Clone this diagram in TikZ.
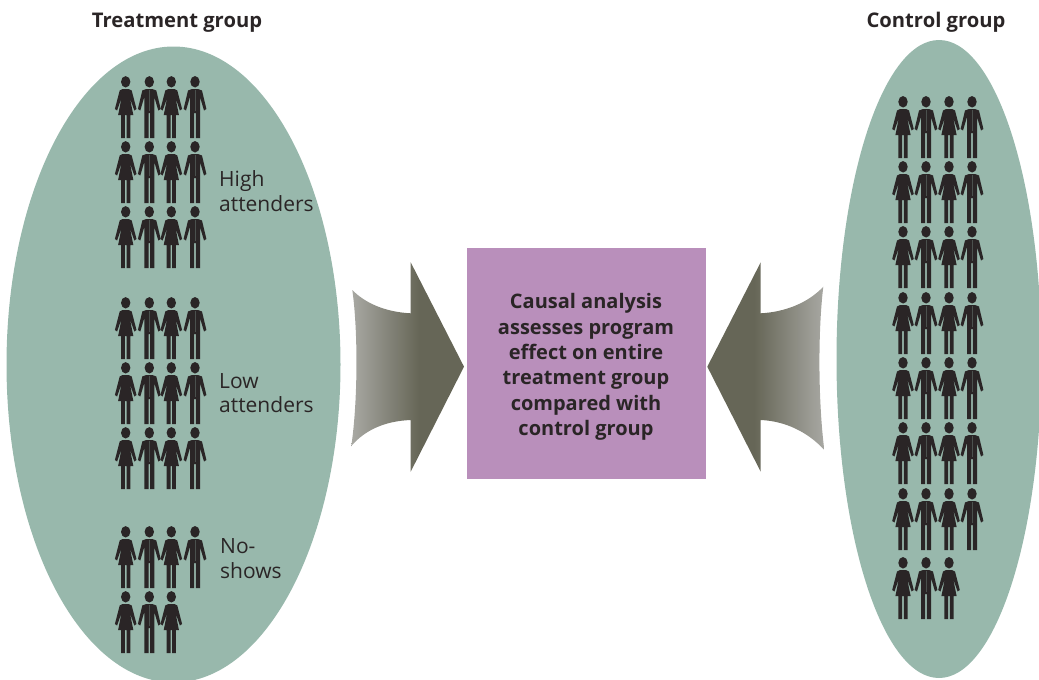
\documentclass[tikz,border=0pt]{standalone}
\usepackage{fontspec}
\setmainfont{Open Sans}
\usetikzlibrary{shapes.geometric}
\definecolor{oval}{HTML}{98B8AC}
\definecolor{boxc}{HTML}{B98FBB}
\definecolor{ink}{HTML}{2A2526}
\pgfdeclarehorizontalshading{arrowR}{100bp}{rgb(0bp)=(0.66,0.66,0.64); rgb(25bp)=(0.66,0.66,0.64); rgb(55bp)=(0.40,0.40,0.34); rgb(100bp)=(0.40,0.40,0.34)}
\pgfdeclarehorizontalshading{arrowL}{100bp}{rgb(0bp)=(0.40,0.40,0.34); rgb(45bp)=(0.40,0.40,0.34); rgb(75bp)=(0.66,0.66,0.64); rgb(100bp)=(0.66,0.66,0.64)}
\tikzset{
  x=1pt,y=-1pt,
  group/.style={ellipse,fill=oval,inner sep=0pt},
  title/.style={font=\fontsize{20.2}{24}\selectfont\bfseries,text=ink,anchor=center},
  lab/.style={font=\fontsize{21}{24.5}\selectfont,text=ink,align=left,anchor=west,inner sep=0pt},
  woman/.pic={
    \fill[ink] (0,4.8) ellipse [x radius=4.7,y radius=5.7];
    \fill[ink] (-3,12) -- (3,12) -- (6,13.5) -- (10.8,32) -- (8.6,33.5) -- (4.2,21) -- (7.6,38) -- (4.6,38) -- (4.6,61) -- (0.8,61) -- (0.8,38) -- (-0.8,38) -- (-0.8,61) -- (-4.6,61) -- (-4.6,38) -- (-7.6,38) -- (-4.2,21) -- (-8.6,33.5) -- (-10.8,32) -- (-6,13.5) -- cycle;
  },
  man/.pic={
    \fill[ink] (0,4.8) ellipse [x radius=4.7,y radius=5.7];
    \fill[ink] (-3,12) -- (3,12) -- (7,13.5) -- (11.4,32) -- (9,33.5) -- (5,20) -- (5,61) -- (0.8,61) -- (0.8,36) -- (-0.8,36) -- (-0.8,61) -- (-5,61) -- (-5,20) -- (-9,33.5) -- (-11.4,32) -- (-7,13.5) -- cycle;
    \draw[ink!70!oval,line width=0.25pt] (0,13) -- (0,34);
  },
}
\newcommand{\fourT}[1]{%
  \pic at (125.7,#1) {woman}; \pic at (149.3,#1) {man};
  \pic at (171.3,#1) {woman}; \pic at (195,#1) {man};}
\newcommand{\threeT}[1]{%
  \pic at (125.7,#1) {woman}; \pic at (149.3,#1) {man};
  \pic at (171.3,#1) {woman};}
\newcommand{\fourC}[1]{%
  \pic at (903,#1) {woman}; \pic at (926,#1) {man};
  \pic at (949,#1) {woman}; \pic at (972,#1) {man};}
\newcommand{\threeC}[1]{%
  \pic at (903,#1) {woman}; \pic at (926,#1) {man};
  \pic at (949,#1) {woman};}
\begin{document}
\begin{tikzpicture}
\useasboundingbox (0,0) rectangle (1039,680);
\node[group,minimum width=334pt,minimum height=636pt] (treat) at (173.5,364.5) {};
\node[group,minimum width=205pt,minimum height=638pt] (ctrl) at (939,359) {};
\node[title] (tt) at (177,22.5) {Treatment group};
\node[title] (ct) at (936,22.5) {Control group};
\foreach \y in {77,142,207,298,363,428,527} {\fourT{\y}}
\threeT{592}
\foreach \y in {97,162,227,293,358,423,489} {\fourC{\y}}
\threeC{558}
\node[lab] (high) at (219,191) {High\\attenders};
\node[lab] (low) at (219,393) {Low\\attenders};
\node[lab] (no) at (220,558.5) {No-\\shows};
\node[fill=boxc,minimum width=239pt,minimum height=231pt,inner sep=0pt] (box) at (586.5,363.5) {};
\node[font=\fontsize{20}{25.4}\selectfont\bfseries,text=ink,align=center,inner sep=0pt] (boxtext) at (586,367) {Causal analysis\\assesses program\\effect on entire\\treatment group\\compared with\\control group};
\path[shade,shading=arrowR] (464,366.7) -- (410.7,262.3) -- (410.7,313.3)
  .. controls (385,312) and (365,303) .. (352.3,290)
  .. controls (358,330) and (358,400) .. (351.3,446)
  .. controls (365,430) and (385,421) .. (410.7,420)
  -- (410.7,471.7) -- cycle;
\path[shade,shading=arrowL] (707.3,366.7) -- (760.7,262.3) -- (760.7,313.3)
  .. controls (785,312) and (808,303) .. (823.3,286.7)
  .. controls (818,330) and (818,400) .. (824.3,450)
  .. controls (808,432) and (785,421) .. (760.7,420)
  -- (760.7,471.7) -- cycle;
\end{tikzpicture}
\end{document}
